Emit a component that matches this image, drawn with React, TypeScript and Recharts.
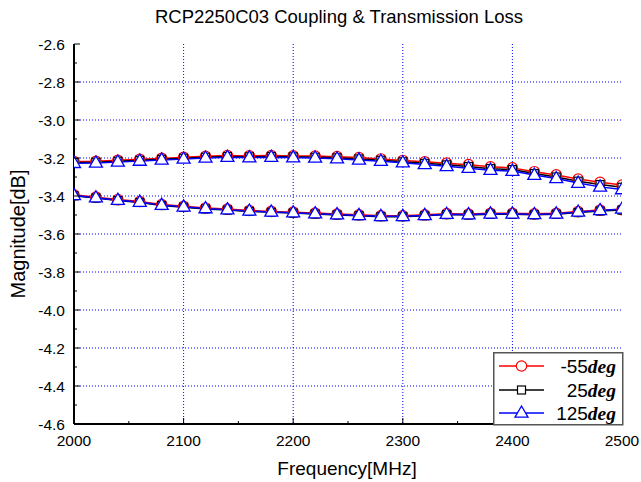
import React from 'react';
import { LineChart, Line, XAxis, YAxis, CartesianGrid, Legend } from 'recharts';

// ---------- data ----------
const freqs = [2000, 2020, 2040, 2060, 2080, 2100, 2120, 2140, 2160, 2180, 2200, 2220, 2240, 2260, 2280, 2300, 2320, 2340, 2360, 2380, 2400, 2420, 2440, 2460, 2480, 2500];

// Transmission loss (upper curves)
const transM55 = [-3.219, -3.217, -3.212, -3.207, -3.202, -3.196, -3.191, -3.187, -3.189, -3.187, -3.189, -3.190, -3.193, -3.198, -3.205, -3.213, -3.220, -3.227, -3.235, -3.246, -3.252, -3.272, -3.289, -3.311, -3.328, -3.342];
const trans25 = [-3.224, -3.222, -3.217, -3.212, -3.207, -3.201, -3.196, -3.192, -3.194, -3.192, -3.194, -3.196, -3.199, -3.205, -3.212, -3.220, -3.228, -3.236, -3.245, -3.256, -3.261, -3.282, -3.300, -3.322, -3.340, -3.354];
const trans125 = [-3.228, -3.226, -3.221, -3.216, -3.210, -3.205, -3.200, -3.196, -3.198, -3.196, -3.198, -3.200, -3.204, -3.210, -3.217, -3.225, -3.234, -3.244, -3.254, -3.264, -3.269, -3.290, -3.308, -3.332, -3.352, -3.366];

// Coupling (lower curves)
const coupM55 = [-3.394, -3.406, -3.419, -3.429, -3.445, -3.454, -3.463, -3.469, -3.476, -3.481, -3.485, -3.490, -3.495, -3.499, -3.504, -3.504, -3.499, -3.493, -3.495, -3.491, -3.491, -3.494, -3.491, -3.482, -3.474, -3.472];
const coup25 = [-3.399, -3.411, -3.424, -3.434, -3.450, -3.459, -3.468, -3.474, -3.481, -3.486, -3.490, -3.495, -3.500, -3.504, -3.509, -3.509, -3.504, -3.498, -3.500, -3.496, -3.496, -3.499, -3.496, -3.487, -3.479, -3.474];
const coup125 = [-3.397, -3.409, -3.422, -3.432, -3.448, -3.457, -3.466, -3.472, -3.479, -3.484, -3.488, -3.493, -3.498, -3.502, -3.507, -3.507, -3.502, -3.496, -3.498, -3.494, -3.494, -3.497, -3.494, -3.484, -3.476, -3.468];

const xTicks = [2000, 2050, 2100, 2150, 2200, 2250, 2300, 2350, 2400, 2450, 2500];
const xGrid = [2100, 2200, 2300, 2400];
const yTicks = [-4.6, -4.5, -4.4, -4.3, -4.2, -4.1, -4.0, -3.9, -3.8, -3.7, -3.6, -3.5, -3.4, -3.3, -3.2, -3.1, -3.0, -2.9, -2.8, -2.7, -2.6];
const yGrid = [-4.4, -4.2, -4.0, -3.8, -3.6, -3.4, -3.2, -3.0, -2.8];

const legendLabels = ['-55', '25', '125'];
const legendUnit = 'deg';
const titleText = 'RCP2250C03 Coupling & Transmission Loss';
const xLabel = 'Frequency[MHz]';
const yLabel = 'Magnitude[dB]';

const data = freqs.map((f, i) => ({
  f,
  tR: transM55[i],
  cR: coupM55[i],
  tK: trans25[i],
  cK: coup25[i],
  tB: trans125[i],
  cB: coup125[i],
}));

// ---------- styles ----------
const SANS = '"Liberation Sans", Arial, sans-serif';
const SERIF = '"Liberation Serif", "Times New Roman", serif';
const RED = '#ff0000';
const BLACK = '#000000';
const BLUE = '#0000ff';

const CircleDot = (p: any) => {
  if (p.cx == null || p.cy == null) return null;
  return <circle key={`c${p.dataKey}${p.index}`} cx={p.cx} cy={p.cy} r={5.2} fill="#fff" stroke={RED} strokeWidth={1.2} />;
};
const SquareDot = (p: any) => {
  if (p.cx == null || p.cy == null) return null;
  return <rect key={`s${p.dataKey}${p.index}`} x={p.cx - 4} y={p.cy - 4} width={8} height={8} fill="#fff" stroke={BLACK} strokeWidth={1.2} />;
};
const TriDot = (p: any) => {
  if (p.cx == null || p.cy == null) return null;
  const { cx, cy } = p;
  return (
    <path
      key={`t${p.dataKey}${p.index}`}
      d={`M${cx},${cy - 7}L${cx + 6.5},${cy + 4.2}L${cx - 6.5},${cy + 4.2}Z`}
      fill="#fff"
      stroke={BLUE}
      strokeWidth={1.3}
    />
  );
};

const isMajorX = (v: number) => Math.round(v) % 100 === 0;
const isMajorY = (v: number) => Math.abs(Math.round(v * 10)) % 2 === 0;

const BottomTick = (p: any) => {
  const v = p.payload.value;
  const major = isMajorX(v);
  return (
    <g>
      <line x1={p.x} x2={p.x} y1={p.y} y2={p.y - (major ? 6 : 3)} stroke="#000" strokeWidth={1} />
      {major && (
        <text x={p.x} y={p.y + 22} textAnchor="middle" fontSize={15.5} fontFamily={SANS} fill="#000">
          {v}
        </text>
      )}
    </g>
  );
};
const TopTick = (p: any) => {
  const major = isMajorX(p.payload.value);
  return <line x1={p.x} x2={p.x} y1={p.y} y2={p.y + (major ? 6 : 3)} stroke="#000" strokeWidth={1} />;
};
const LeftTick = (p: any) => {
  const v = p.payload.value;
  const major = isMajorY(v);
  return (
    <g>
      <line x1={p.x} x2={p.x + (major ? 6 : 3)} y1={p.y} y2={p.y} stroke="#000" strokeWidth={1} />
      {major && (
        <text x={p.x - 9} y={p.y + 5.5} textAnchor="end" fontSize={15.5} fontFamily={SANS} fill="#000">
          {v.toFixed(1)}
        </text>
      )}
    </g>
  );
};
const RightTick = (p: any) => {
  const major = isMajorY(p.payload.value);
  return <line x1={p.x} x2={p.x - (major ? 6 : 3)} y1={p.y} y2={p.y} stroke="#000" strokeWidth={1} />;
};

const legendColors = [RED, BLACK, BLUE];
const LegendBox = () => {
  const w = 129;
  const h = 72;
  const rows = [14, 38, 61];
  return (
    <svg width={w + 2} height={h + 2} style={{ display: 'block' }}>
      <rect x={0.75} y={0.75} width={w} height={h} fill="#fff" stroke="#555" strokeWidth={1.5} />
      {legendLabels.map((lab, i) => {
        const cy = rows[i];
        const c = legendColors[i];
        const mx = 28.5;
        return (
          <g key={lab}>
            <line x1={6} x2={51} y1={cy} y2={cy} stroke={c} strokeWidth={1.3} />
            {i === 0 && <circle cx={mx} cy={cy} r={5.2} fill="#fff" stroke={c} strokeWidth={1.2} />}
            {i === 1 && <rect x={mx - 4} y={cy - 4} width={8} height={8} fill="#fff" stroke={c} strokeWidth={1.2} />}
            {i === 2 && (
              <path d={`M${mx},${cy - 7}L${mx + 6.5},${cy + 4.2}L${mx - 6.5},${cy + 4.2}Z`} fill="#fff" stroke={c} strokeWidth={1.3} />
            )}
            <text x={123} y={cy + 6.5} textAnchor="end" fill="#000">
              <tspan fontFamily={SANS} fontSize={19}>{lab}</tspan>
              <tspan fontFamily={SERIF} fontSize={19.5} fontWeight="bold" fontStyle="italic">{legendUnit}</tspan>
            </text>
          </g>
        );
      })}
    </svg>
  );
};

export default function App() {
  return (
    <div style={{ position: 'absolute', left: 0, top: 0, width: 641, height: 482, background: '#fff' }}>
      <LineChart
        width={641}
        height={482}
        data={data}
        margin={{ top: 44, right: 19, bottom: 28, left: 14 }}
      >
        <CartesianGrid
          stroke="#0000ff"
          strokeDasharray="1 2"
          strokeWidth={1}
          horizontalValues={yGrid}
          verticalValues={xGrid}
        />
        <XAxis
          dataKey="f"
          type="number"
          domain={[2000, 2500]}
          allowDataOverflow
          ticks={xTicks}
          interval={0}
          height={30}
          tickSize={0}
          tickMargin={0}
          tickLine={false}
          tick={BottomTick}
          axisLine={{ stroke: '#000', strokeWidth: 2 }}
        />
        <XAxis
          xAxisId="top"
          orientation="top"
          dataKey="f"
          type="number"
          domain={[2000, 2500]}
          allowDataOverflow
          ticks={xTicks}
          interval={0}
          height={0}
          tickSize={0}
          tickMargin={0}
          tickLine={false}
          tick={TopTick}
          axisLine={{ stroke: '#000', strokeWidth: 2 }}
        />
        <YAxis
          type="number"
          domain={[-4.6, -2.6]}
          allowDataOverflow
          ticks={yTicks}
          interval={0}
          width={60}
          tickSize={0}
          tickMargin={0}
          tickLine={false}
          tick={LeftTick}
          axisLine={{ stroke: '#000', strokeWidth: 2 }}
        />
        <YAxis
          yAxisId="right"
          orientation="right"
          type="number"
          domain={[-4.6, -2.6]}
          allowDataOverflow
          ticks={yTicks}
          interval={0}
          width={0}
          tickSize={0}
          tickMargin={0}
          tickLine={false}
          tick={RightTick}
          axisLine={{ stroke: '#000', strokeWidth: 2 }}
        />
        <Legend
          layout="vertical"
          align="center"
          verticalAlign="middle"
          content={() => <LegendBox />}
          wrapperStyle={{ position: 'absolute', left: 493, top: 352, width: 131, height: 74, margin: 0 }}
        />
        <Line type="linear" dataKey="tR" name="-55deg" stroke={RED} strokeWidth={1.5} dot={CircleDot} isAnimationActive={false} />
        <Line type="linear" dataKey="cR" name="-55deg coupling" stroke={RED} strokeWidth={1.5} dot={CircleDot} isAnimationActive={false} legendType="none" />
        <Line type="linear" dataKey="tK" name="25deg" stroke={BLACK} strokeWidth={1.5} dot={SquareDot} isAnimationActive={false} />
        <Line type="linear" dataKey="cK" name="25deg coupling" stroke={BLACK} strokeWidth={1.5} dot={SquareDot} isAnimationActive={false} legendType="none" />
        <Line type="linear" dataKey="tB" name="125deg" stroke={BLUE} strokeWidth={1.5} dot={TriDot} isAnimationActive={false} />
        <Line type="linear" dataKey="cB" name="125deg coupling" stroke={BLUE} strokeWidth={1.5} dot={TriDot} isAnimationActive={false} legendType="none" />
        <text x={339} y={23} textAnchor="middle" fontSize={18.5} fontFamily={SANS} fill="#000">
          {titleText}
        </text>
        <text x={347} y={475} textAnchor="middle" fontSize={19} fontFamily={SANS} fill="#000">
          {xLabel}
        </text>
        <text transform="rotate(-90)" x={-234} y={25} textAnchor="middle" fontSize={20} fontFamily={SANS} fill="#000">
          {yLabel}
        </text>
      </LineChart>
    </div>
  );
}
